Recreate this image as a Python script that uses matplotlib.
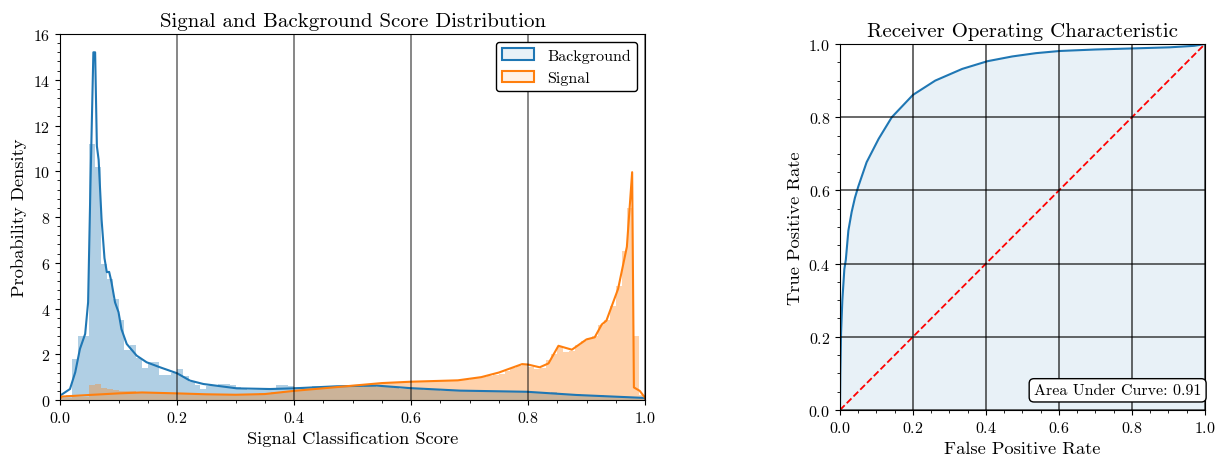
import numpy as np
import matplotlib
matplotlib.use("Agg")
import matplotlib.pyplot as plt
from matplotlib.patches import Patch
from matplotlib.ticker import MultipleLocator
from matplotlib.colors import to_rgba

plt.rcParams['font.family'] = ['cmr10', 'DejaVu Serif']
plt.rcParams['mathtext.fontset'] = 'cm'
plt.rcParams['axes.formatter.use_mathtext'] = True

# histogram (density) per 0.01 bin
bin_edges = np.linspace(0, 1, 101)
bkg_hist = [0.15, 0.2, 1.8, 2.8, 2.8, 11.2, 10.2, 5.95, 5.3, 4.4,
            3.5, 2.2, 2.4, 1.85, 1.4, 1.65, 1.65, 1.1, 1.1, 1.2,
            1.35, 1.05, 0.8, 0.65, 0.5, 0.6, 0.6, 0.7, 0.72, 0.65,
            0.55, 0.5, 0.45, 0.45, 0.45, 0.5, 0.5, 0.65, 0.65, 0.6,
            0.58, 0.55, 0.58, 0.6, 0.6, 0.62, 0.62, 0.6, 0.58, 0.6,
            0.55, 0.58, 0.6, 0.6, 0.55, 0.55, 0.55, 0.52, 0.5, 0.5,
            0.48, 0.46, 0.45, 0.42, 0.42, 0.4, 0.4, 0.4, 0.38, 0.4,
            0.38, 0.38, 0.36, 0.36, 0.36, 0.35, 0.35, 0.35, 0.34, 0.34,
            0.33, 0.32, 0.32, 0.3, 0.35, 0.3, 0.28, 0.25, 0.25, 0.24,
            0.22, 0.2, 0.2, 0.18, 0.17, 0.16, 0.15, 0.14, 0.12, 0.1]
sig_hist = [0.1, 0.1, 0.12, 0.15, 0.15, 0.66, 0.7, 0.51, 0.5, 0.45,
            0.41, 0.4, 0.38, 0.36, 0.35, 0.34, 0.33, 0.32, 0.3, 0.3,
            0.29, 0.28, 0.27, 0.26, 0.25, 0.25, 0.24, 0.24, 0.24, 0.25,
            0.25, 0.26, 0.27, 0.28, 0.3, 0.32, 0.34, 0.36, 0.38, 0.4,
            0.42, 0.44, 0.46, 0.48, 0.5, 0.52, 0.55, 0.57, 0.6, 0.62,
            0.64, 0.66, 0.68, 0.7, 0.72, 0.74, 0.76, 0.77, 0.78, 0.8,
            0.8, 0.81, 0.82, 0.82, 0.83, 0.84, 0.84, 0.85, 0.86, 0.88,
            0.9, 0.95, 1.0, 1.05, 1.1, 1.15, 1.25, 1.4, 1.5, 1.55,
            1.45, 1.35, 1.4, 1.75, 2.0, 2.35, 2.1, 2.15, 2.4, 2.6,
            2.7, 2.8, 3.3, 3.5, 4.1, 5.0, 6.5, 8.4, 2.8, 0.2]

# kde curves
bkg_kde_x = [0.0, 0.017, 0.026, 0.034, 0.043, 0.048, 0.052, 0.057, 0.06, 0.063,
             0.066, 0.071, 0.076, 0.08, 0.084, 0.088, 0.094, 0.1, 0.105, 0.114,
             0.131, 0.148, 0.171, 0.2, 0.222, 0.245, 0.302, 0.359, 0.399, 0.473,
             0.541, 0.598, 0.684, 0.798, 0.883, 1.0]
bkg_kde_y = [0.19, 0.48, 1.21, 2.23, 2.89, 4.27, 9.4, 15.2, 15.2, 11.1,
             10.5, 7.9, 6.2, 5.59, 5.6, 5.15, 4.27, 3.84, 3.1, 2.45,
             1.94, 1.65, 1.43, 1.17, 0.85, 0.7, 0.51, 0.48, 0.51, 0.6,
             0.63, 0.52, 0.41, 0.36, 0.22, 0.09]
sig_kde_x = [0.0, 0.003, 0.05, 0.1, 0.14, 0.2, 0.25, 0.3, 0.35, 0.4,
             0.48, 0.55, 0.6, 0.68, 0.72, 0.75, 0.79, 0.8, 0.82, 0.835,
             0.852, 0.875, 0.9, 0.914, 0.926, 0.934, 0.954, 0.969, 0.978, 0.981,
             0.991, 1.0]
sig_kde_y = [0.05, 0.15, 0.22, 0.29, 0.33, 0.29, 0.25, 0.23, 0.26, 0.4,
             0.58, 0.74, 0.8, 0.86, 1.0, 1.2, 1.57, 1.55, 1.43, 1.6,
             2.37, 2.2, 2.65, 2.74, 3.3, 3.47, 4.86, 6.7, 9.96, 0.55,
             0.4, 0.1]

# ROC curve
fpr = [0.0, 0.001, 0.003, 0.0065, 0.012, 0.016, 0.023, 0.032, 0.041, 0.05,
       0.073, 0.106, 0.142, 0.2, 0.261, 0.335, 0.404, 0.472, 0.537, 0.603,
       0.7, 0.804, 0.904, 0.97, 1.0]
tpr = [0.0, 0.1, 0.21, 0.30, 0.385, 0.41, 0.49, 0.541, 0.58, 0.61,
       0.677, 0.741, 0.80, 0.861, 0.90, 0.932, 0.953, 0.966, 0.975, 0.981,
       0.985, 0.988, 0.991, 0.995, 1.0]
auc = 0.91

c_bkg = '#1f77b4'
c_sig = '#ff7f0e'

fig = plt.figure(figsize=(12.2, 4.56), dpi=100)
ax1 = fig.add_axes([0.0492, 0.1206, 0.4795, 0.8026])
ax2 = fig.add_axes([0.6885, 0.0987, 0.2992, 0.8026])

ax1.hist(bin_edges[:-1], bins=bin_edges, weights=bkg_hist, color=c_bkg, alpha=0.35)
ax1.hist(bin_edges[:-1], bins=bin_edges, weights=sig_hist, color=c_sig, alpha=0.35)
ax1.plot(bkg_kde_x, bkg_kde_y, color=c_bkg, lw=1.5)
ax1.plot(sig_kde_x, sig_kde_y, color=c_sig, lw=1.5)
ax1.set_xlim(0, 1)
ax1.set_ylim(0, 16)
ax1.xaxis.set_major_locator(MultipleLocator(0.2))
ax1.xaxis.set_minor_locator(MultipleLocator(0.05))
ax1.yaxis.set_major_locator(MultipleLocator(2))
ax1.yaxis.set_minor_locator(MultipleLocator(0.4))
ax1.grid(axis='x', color='k', alpha=0.6, lw=1.1)
ax1.set_axisbelow(False)
ax1.set_title('Signal and Background Score Distribution', fontsize=15)
ax1.set_xlabel('Signal Classification Score', fontsize=13.3)
ax1.set_ylabel('Probability Density', fontsize=13.3)
handles = [Patch(facecolor=to_rgba(c_bkg, 0.1), edgecolor=c_bkg, lw=1.5, label='Background'),
           Patch(facecolor=to_rgba(c_sig, 0.1), edgecolor=c_sig, lw=1.5, label='Signal')]
leg = ax1.legend(handles=handles, loc='upper right', fontsize=11.5, fancybox=True, framealpha=1)
leg.get_frame().set_edgecolor('k')

ax2.plot(fpr, tpr, color=c_bkg, lw=1.5)
ax2.fill_between(fpr, tpr, color=c_bkg, alpha=0.1, lw=0)
ax2.plot([0, 1], [0, 1], 'r--', lw=1.3)
ax2.set_xlim(0, 1)
ax2.set_ylim(0, 1)
for axis in (ax2.xaxis, ax2.yaxis):
    axis.set_major_locator(MultipleLocator(0.2))
    axis.set_minor_locator(MultipleLocator(0.05))
ax2.grid(color='k', alpha=0.75, lw=1.1)
ax2.set_axisbelow(False)
ax2.set_title('Receiver Operating Characteristic', fontsize=15)
ax2.set_xlabel('False Positive Rate', fontsize=13.3)
ax2.set_ylabel('True Positive Rate', fontsize=13.3)
ax2.text(0.99, 0.035, 'Area Under Curve: %.2f' % auc, transform=ax2.transAxes,
         ha='right', va='bottom', fontsize=11.5,
         bbox=dict(boxstyle='round,pad=0.3', facecolor='white', edgecolor='k'))

for ax in (ax1, ax2):
    ax.tick_params(labelsize=11.5)
    ax.tick_params(which='minor', length=2)

fig.savefig('out.png', dpi=100)
